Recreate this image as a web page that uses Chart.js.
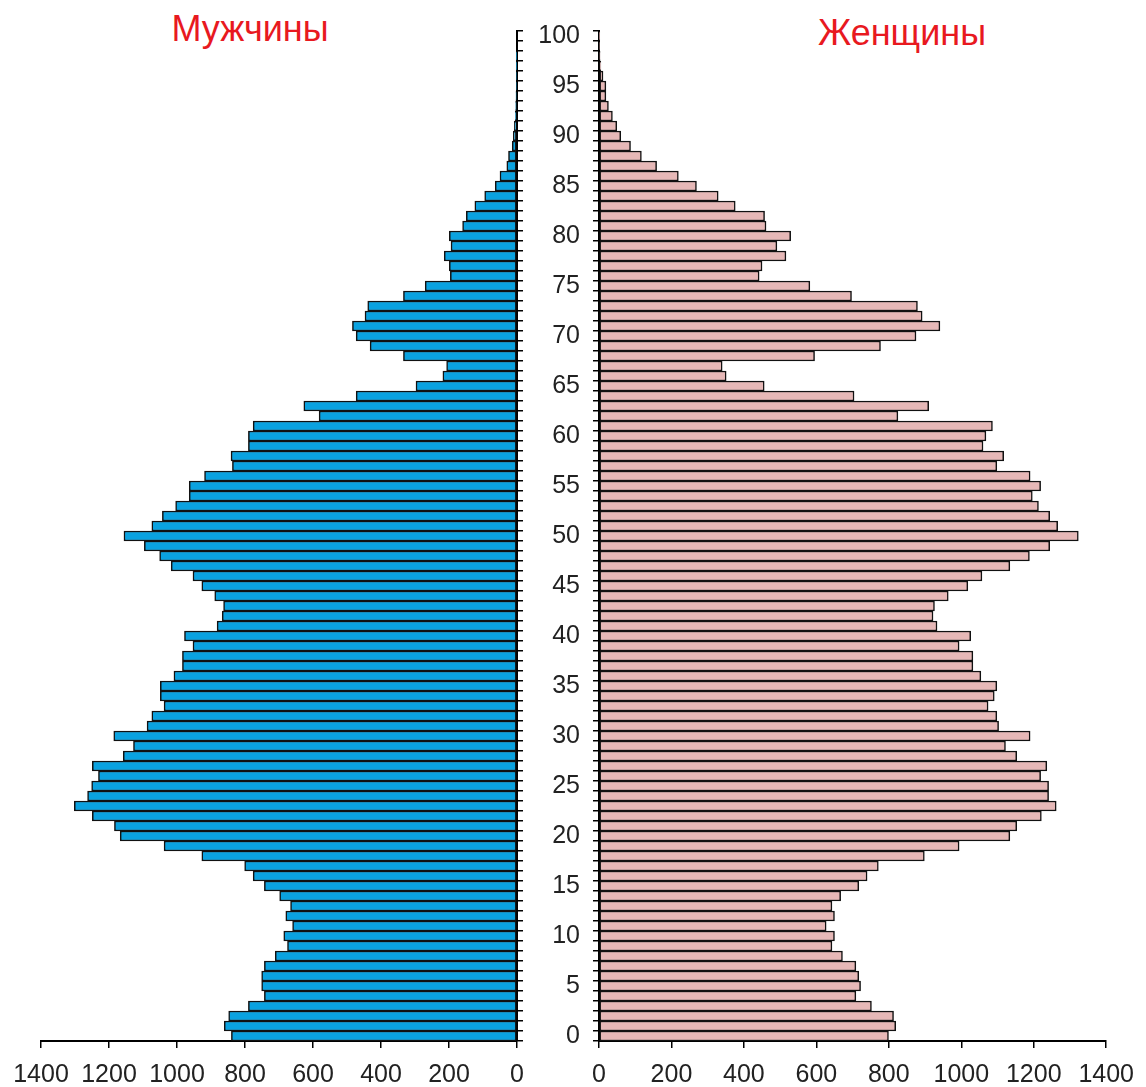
<!DOCTYPE html>
<html>
<head>
<meta charset="utf-8">
<script src="https://cdn.jsdelivr.net/npm/chart.js@4.4.1/dist/chart.umd.min.js"></script>
<style>
  body { margin: 0; background: #fff; width: 1146px; height: 1087px; position: relative; overflow: hidden; }
  .box { position: absolute; top: 0; height: 1087px; }
  .title { position: absolute; font-family: "Liberation Sans", Arial, sans-serif; font-size: 36px; color: #e8191f; white-space: nowrap; transform: translate(-50%, -50%); }
</style>
</head>
<body>
<div class="title" style="left:250px; top:29px;">Мужчины</div>
<div class="title" style="left:902px; top:33px;">Женщины</div>
<div class="box" style="left:0; width:540px;"><canvas id="left"></canvas></div>
<div class="box" style="left:540px; width:606px;"><canvas id="right"></canvas></div>
<script>
// ages 0..100
const ages = [];
for (let a = 0; a <= 100; a++) ages.push(String(a));

// population by single year of age
const men = [
  840, 861, 848, 790, 743, 751, 751, 743, 711, 675,
  686, 660, 680, 666, 698, 743, 776, 801, 927, 1038,
  1167, 1184, 1249, 1302, 1263, 1251, 1231, 1249, 1158, 1128,
  1186, 1088, 1074, 1038, 1049, 1049, 1009, 984, 984, 953,
  978, 882, 867, 863, 889, 927, 953, 1017, 1051, 1096,
  1156, 1074, 1043, 1004, 964, 964, 919, 837, 841, 790,
  790, 776, 582, 627, 473, 297, 218, 207, 334, 432,
  473, 484, 447, 439, 334, 270, 196, 199, 214, 194,
  199, 160, 149, 124, 95, 64, 50, 30, 25, 14,
  11, 8, 5, 4, 3, 2, 2, 1, 1, 0,
  0
];
const women = [
  799, 819, 813, 752, 709, 722, 717, 709, 672, 643,
  650, 627, 650, 643, 667, 717, 740, 771, 898, 994,
  1134, 1153, 1221, 1262, 1241, 1241, 1219, 1236, 1153, 1122,
  1190, 1103, 1098, 1074, 1091, 1098, 1054, 1032, 1032, 994,
  1026, 933, 922, 926, 964, 1018, 1057, 1134, 1188, 1244,
  1323, 1266, 1244, 1213, 1196, 1219, 1190, 1098, 1117, 1060,
  1068, 1086, 825, 910, 704, 456, 351, 340, 595, 777,
  875, 941, 892, 879, 697, 582, 442, 450, 516, 491,
  529, 461, 457, 376, 329, 269, 219, 159, 117, 87,
  60, 49, 37, 26, 19, 19, 11, 5, 3, 2,
  1
];

const font = { family: "'Liberation Sans', Arial, sans-serif", size: 25 };
const textColor = "#222";

function barDataset(values, fill) {
  return {
    data: values,
    backgroundColor: fill,
    borderColor: "#111",
    borderWidth: 1.5,
    borderSkipped: false,
    barPercentage: 1,
    categoryPercentage: 1,
  };
}

function xScale(reverse) {
  return {
    type: "linear",
    min: 0,
    max: 1400,
    reverse: reverse,
    border: { display: true, color: "#000", width: 2 },
    grid: { drawOnChartArea: false, color: "#000", lineWidth: 1.5, tickLength: 7 },
    ticks: {
      stepSize: 200, color: textColor, font: font, padding: 12, maxRotation: 0,
      callback: (v) => String(v),
    },
    afterFit: (scale) => { scale.height = 1087 - 1041; },
  };
}

function yScale(position, width, showLabels) {
  return {
    type: "category",
    position: position,
    reverse: true,
    offset: true,
    border: { display: true, color: "#000", width: 2 },
    grid: { offset: true, drawOnChartArea: false, color: "#000", lineWidth: 1.5, tickLength: 6 },
    ticks: {
      display: showLabels,
      autoSkip: false,
      color: textColor,
      font: font,
      padding: 13,
      callback: function (value, index) {
        return index % 5 === 0 ? this.getLabelForValue(value) : "";
      },
    },
    afterFit: (scale) => { scale.width = width; },
  };
}

const common = {
  responsive: true,
  maintainAspectRatio: false,
  animation: false,
  indexAxis: "y",
  plugins: { legend: { display: false }, tooltip: { enabled: false } },
};

new Chart(document.getElementById("left"), {
  type: "bar",
  data: { labels: ages, datasets: [barDataset(men, "#0aa2e0")] },
  options: {
    ...common,
    layout: { padding: { left: 41, top: 31, right: 0, bottom: 0 } },
    scales: {
      x: xScale(true),
      y: yScale("right", 540 - 517, false),
    },
  },
});

new Chart(document.getElementById("right"), {
  type: "bar",
  data: { labels: ages, datasets: [barDataset(women, "#e6b8b7")] },
  options: {
    ...common,
    layout: { padding: { left: 0, top: 31, right: 1146 - 1110, bottom: 0 } },
    scales: {
      x: xScale(false),
      y: yScale("left", 599 - 540, true),
    },
  },
});
</script>
</body>
</html>
